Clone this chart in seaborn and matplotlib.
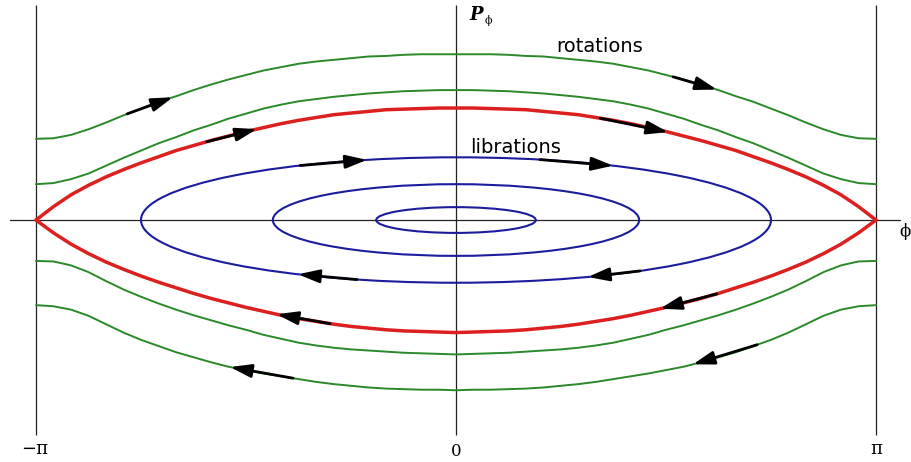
"""
Фазовый портрет маятника: вращения, либрации и сепаратриса.
"""
import numpy as np
import pandas as pd
import matplotlib.pyplot as plt
import seaborn as sns
from matplotlib.patches import Ellipse

PI = np.pi

# угол в долях pi, шаг pi/24 (от -pi до 0; картинка симметрична по phi)
phi_half = np.arange(-24, 1) / 24

# импульс p_phi (сепаратриса в максимуме = 2), от -pi до 0
rot_outer_up = [1.45, 1.46, 1.52, 1.62, 1.74, 1.87, 1.99, 2.11, 2.21, 2.32, 2.42, 2.51, 2.59,
                2.67, 2.73, 2.79, 2.83, 2.86, 2.89, 2.92, 2.93, 2.95, 2.96, 2.96, 2.96]
rot_inner_up = [0.64, 0.66, 0.73, 0.83, 0.97, 1.11, 1.24, 1.37, 1.48, 1.60, 1.70, 1.81, 1.90,
                1.99, 2.06, 2.12, 2.16, 2.20, 2.23, 2.26, 2.28, 2.30, 2.31, 2.32, 2.32]
sep_up = [0.00, 0.24, 0.45, 0.62, 0.77, 0.90, 1.02, 1.13, 1.24, 1.33, 1.42, 1.50, 1.58,
          1.65, 1.72, 1.78, 1.83, 1.88, 1.91, 1.94, 1.97, 1.98, 1.99, 2.00, 2.00]
sep_down = [0.00, -0.23, -0.43, -0.60, -0.75, -0.88, -1.00, -1.11, -1.21, -1.31, -1.40, -1.48, -1.56,
            -1.63, -1.70, -1.76, -1.81, -1.86, -1.90, -1.93, -1.96, -1.98, -1.99, -2.00, -2.01]
rot_inner_down = [-0.73, -0.74, -0.81, -0.93, -1.09, -1.24, -1.37, -1.49, -1.60, -1.70, -1.79, -1.88, -1.96,
                  -2.05, -2.12, -2.19, -2.24, -2.28, -2.31, -2.33, -2.35, -2.37, -2.38, -2.39, -2.40]
rot_outer_down = [-1.52, -1.54, -1.60, -1.71, -1.86, -2.01, -2.14, -2.25, -2.36, -2.45, -2.54, -2.62, -2.68,
                  -2.74, -2.79, -2.84, -2.89, -2.93, -2.96, -2.99, -3.01, -3.02, -3.03, -3.03, -3.04]

# либрации: полуоси (phi в долях pi, p)
lib_half_width = [0.19, 0.436, 0.75]
lib_half_height = [0.23, 0.64, 1.12]

# стрелки: кривая, начало, конец (phi в долях pi)
rot_arrows = [('rot_outer_up', -0.783, -0.674), ('rot_outer_up', 0.517, 0.621),
              ('sep_up', -0.593, -0.474), ('sep_up', 0.343, 0.505),
              ('sep_down', 0.621, 0.486), ('sep_down', -0.30, -0.427),
              ('rot_outer_down', 0.717, 0.564), ('rot_outer_down', -0.388, -0.538)]
lib_arrows = [(1, -0.371, -0.212), (1, 0.20, 0.374),
              (-1, 0.438, 0.314), (-1, -0.236, -0.376)]

GREEN = '#2a8a2a'
RED = '#dc1f1f'
BLUE = '#1c1c9c'


def mirror(half):
    """Полная кривая от -pi до pi по половине (симметрия phi -> -phi)."""
    half = np.asarray(half)
    return np.r_[half, half[-2::-1]]


phi_grid = mirror(phi_half) * np.r_[np.ones(25), -np.ones(24)]

curves = {
    'rot_outer_up': (mirror(rot_outer_up), GREEN, 1.4),
    'rot_inner_up': (mirror(rot_inner_up), GREEN, 1.4),
    'sep_up': (mirror(sep_up), RED, 2.5),
    'sep_down': (mirror(sep_down), RED, 2.5),
    'rot_inner_down': (mirror(rot_inner_down), GREEN, 1.4),
    'rot_outer_down': (mirror(rot_outer_down), GREEN, 1.4),
}

sns.set_style('white')
plt.rcParams['font.family'] = ['DejaVu Sans']

fig = plt.figure(figsize=(9.12, 4.62), dpi=100)
ax = fig.add_axes([0, 0, 1, 1])
ax.set_xlim(-1.0857 * PI, 1.0857 * PI)
ax.set_ylim(-4.321, 3.929)
ax.axis('off')

# оси
ax.plot([-1.062 * PI, 1.057 * PI], [0, 0], color='#222222', lw=0.9, zorder=1)
ax.vlines([-PI, 0, PI], -3.84, 3.84, color='#222222', lw=0.9, zorder=1)

# вращения и сепаратриса
for name, (vals, col, lw) in curves.items():
    df = pd.DataFrame({'phi': phi_grid * PI, 'p': vals})
    sns.lineplot(data=df, x='phi', y='p', color=col, lw=lw, sort=False,
                 estimator=None, ax=ax, zorder=2)

# либрации
for a, b in zip(lib_half_width, lib_half_height):
    ax.add_patch(Ellipse((0, 0), 2 * a * PI, 2 * b, fill=False,
                         edgecolor=BLUE, lw=1.5, zorder=2))

arrow_kw = dict(arrowstyle='-|>,head_length=0.8,head_width=0.25', color='black',
                lw=2, mutation_scale=16, shrinkA=0, shrinkB=0)

for name, f0, f1 in rot_arrows:
    vals = curves[name][0]
    y0 = np.interp(f0, phi_grid, vals)
    y1 = np.interp(f1, phi_grid, vals)
    ax.annotate('', xy=(f1 * PI, y1), xytext=(f0 * PI, y0), arrowprops=arrow_kw, zorder=3)

a_out, b_out = lib_half_width[-1], lib_half_height[-1]
for sgn, f0, f1 in lib_arrows:
    y0 = sgn * b_out * np.sqrt(1 - (f0 / a_out) ** 2)
    y1 = sgn * b_out * np.sqrt(1 - (f1 / a_out) ** 2)
    ax.annotate('', xy=(f1 * PI, y1), xytext=(f0 * PI, y0), arrowprops=arrow_kw, zorder=3)

# подписи
serif = ['DejaVu Serif']
ax.text(-PI - 0.01, -4.09, '\u2212\u03c0', family=serif, fontsize=13, color='black',
        ha='center', va='center')
ax.text(0, -4.14, '0', family=serif, fontsize=12, color='black', ha='center', va='center')
ax.text(PI, -4.09, '\u03c0', family=serif, fontsize=13, color='black', ha='center', va='center')
ax.text(1.068 * PI, -0.21, '\u03d5', family=serif, fontsize=12, color='black',
        ha='center', va='center')
ax.text(0.047 * PI, 3.66, 'P', family=serif, fontsize=13, fontweight='bold',
        fontstyle='italic', color='black', ha='center', va='center')
ax.text(0.078 * PI, 3.57, '\u03d5', family=serif, fontsize=8, color='black',
        ha='center', va='center')
ax.text(0.342 * PI, 3.09, 'rotations', fontsize=14, color='black', ha='center', va='center')
ax.text(0.143 * PI, 1.30, 'librations', fontsize=14, color='black', ha='center', va='center')

plt.savefig('out.png', dpi=100)
plt.close()
